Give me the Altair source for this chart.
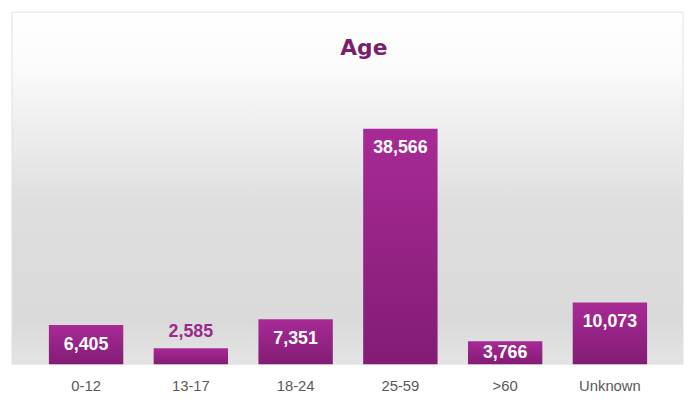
import altair as alt
import pandas as pd

categories = ["0-12", "13-17", "18-24", "25-59", ">60", "Unknown"]
counts = [6405, 2585, 7351, 38566, 3766, 10073]

df = pd.DataFrame({"age": categories, "count": counts})

W, H = 636, 278
xscale = alt.Scale(domain=categories, paddingInner=0.29, paddingOuter=0.145)
yscale = alt.Scale(domain=[0, 45000], nice=False, zero=True)

bg_grad = alt.Gradient(
    gradient="linear", x1=0, y1=0, x2=0, y2=1,
    stops=[
        alt.GradientStop(offset=0.0, color="#ffffff"),
        alt.GradientStop(offset=0.15, color="#fbfbfb"),
        alt.GradientStop(offset=0.55, color="#dedede"),
        alt.GradientStop(offset=0.88, color="#dadada"),
        alt.GradientStop(offset=1.0, color="#e4e4e4"),
    ],
)

bar_grad = alt.Gradient(
    gradient="linear", x1=0, y1=0, x2=0, y2=1,
    stops=[
        alt.GradientStop(offset=0.0, color="#a82a96"),
        alt.GradientStop(offset=1.0, color="#831c75"),
    ],
)

base = alt.Chart(df)

card = base.transform_filter("datum.age == '0-12'").mark_rect(
    color=bg_grad, stroke="#e2e2e2", strokeWidth=1
).encode(
    x=alt.value(-22), x2=alt.value(657), y=alt.value(-78), y2=alt.value(H)
)

bars = base.mark_bar(color=bar_grad).encode(
    x=alt.X("age:N", scale=xscale,
            axis=alt.Axis(title=None, labelAngle=0, ticks=False, domain=False,
                          labelFont="Liberation Sans", labelFontSize=15,
                          labelColor="#595959", labelPadding=15, grid=False)),
    y=alt.Y("count:Q", scale=yscale, axis=None),
)

inside = base.transform_filter("datum.count >= 3000").transform_calculate(
    ly="max(datum.count - 3250, datum.count / 2)"
).mark_text(
    color="white", font="Liberation Sans", fontWeight="bold", fontSize=18,
    baseline="middle", align="center"
).encode(
    x=alt.X("age:N", scale=xscale),
    y=alt.Y("ly:Q", scale=yscale),
    text=alt.Text("count:Q", format=",d"),
)

outside = base.transform_filter("datum.count < 3000").mark_text(
    color="#9b2a8c", font="Liberation Sans", fontWeight="bold", fontSize=18,
    baseline="middle", align="center", dy=-16
).encode(
    x=alt.X("age:N", scale=xscale),
    y=alt.Y("count:Q", scale=yscale),
    text=alt.Text("count:Q", format=",d"),
)

title = base.transform_filter("datum.age == '0-12'").transform_calculate(
    t="'Age'"
).mark_text(
    color="#7a1e70", font="DejaVu Sans",
    fontWeight="bold", fontSize=22, baseline="alphabetic", align="center"
).encode(
    x=alt.value(334), y=alt.value(-35), text="t:N"
)

chart = alt.layer(card, bars, inside, outside, title).properties(
    width=W, height=H,
    autosize=alt.AutoSizeParams(type="none"),
    padding={"left": 26, "top": 80, "right": 26, "bottom": 36},
).configure_view(strokeWidth=0)

chart.save("out.html", embed_options={"renderer": "svg", "actions": False})
